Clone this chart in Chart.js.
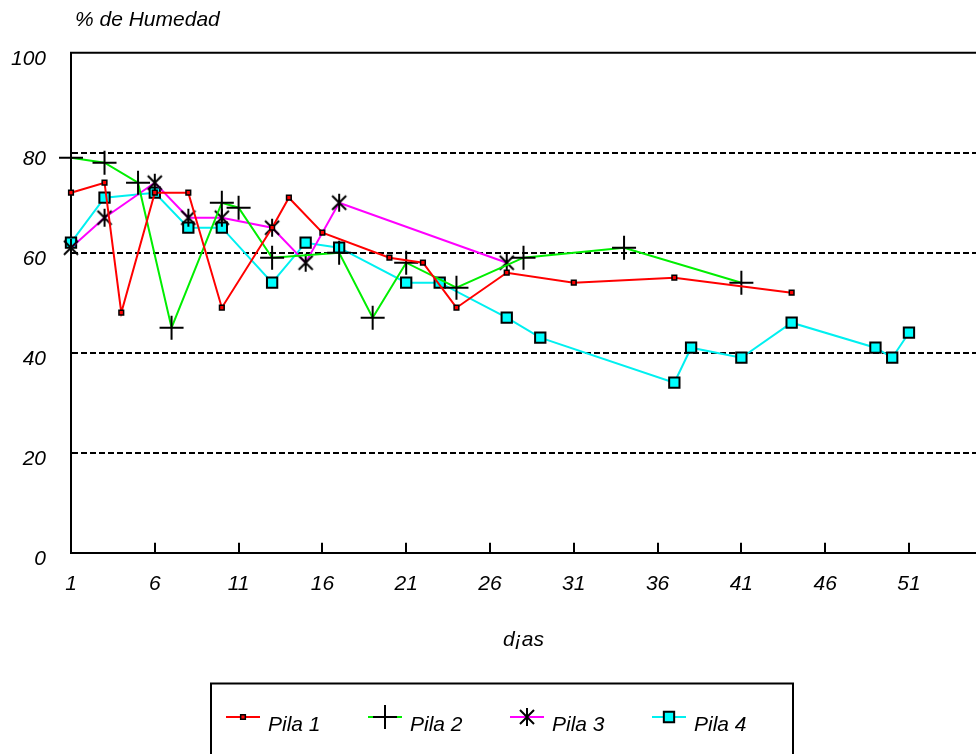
<!DOCTYPE html>
<html>
<head>
<meta charset="utf-8">
<script src="https://cdn.jsdelivr.net/npm/chart.js@4/dist/chart.umd.min.js"></script>
<style>
  html, body { margin: 0; padding: 0; overflow: hidden; background: #fff; }
  #wrap { position: absolute; left: 0; top: 0; width: 990px; height: 754px; }
</style>
</head>
<body>
<div id="wrap"><canvas id="c" width="990" height="754"></canvas></div>
<script>
// Humedad de las pilas de compost (%), por día de muestreo
const pila1Dias = [1, 3, 4, 6, 8, 10, 13, 14, 16, 20, 22, 24, 27, 31, 37, 44];
const pila1Hum  = [72, 74, 48, 72, 72, 49, 65, 71, 64, 59, 58, 49, 56, 54, 55, 52];

const pila2Dias = [1, 3, 5, 7, 10, 11, 13, 17, 19, 21, 24, 28, 34, 41];
const pila2Hum  = [79, 78, 74, 45, 70, 69, 59, 60, 47, 58, 53, 59, 61, 54];

const pila3Dias = [1, 3, 6, 8, 10, 13, 15, 17, 27];
const pila3Hum  = [61, 67, 74, 67, 67, 65, 58, 70, 58];

const pila4Dias = [1, 3, 6, 8, 10, 13, 15, 17, 21, 23, 27, 29, 37, 38, 41, 44, 49, 50, 51];
const pila4Hum  = [62, 71, 72, 65, 65, 54, 62, 61, 54, 54, 47, 43, 34, 41, 39, 46, 41, 39, 44];

const seriesNames = ['Pila 1', 'Pila 2', 'Pila 3', 'Pila 4'];
const xTickValues = [1, 6, 11, 16, 21, 26, 31, 36, 41, 46, 51];
const yTickValues = [0, 20, 40, 60, 80, 100];

const FAMILY = "'Liberation Sans', Arial, Helvetica, sans-serif";
const FONT_SIZE = 21;
const FONT = { family: FAMILY, size: FONT_SIZE, style: 'italic' };
const CSS_FONT = 'italic ' + FONT_SIZE + 'px ' + FAMILY;

// Asterisco de seis brazos para la Pila 3
function asterisk(r) {
  const s = Math.ceil(2 * r + 4);
  const c = document.createElement('canvas');
  c.width = s; c.height = s;
  const g = c.getContext('2d');
  const m = s / 2, d = r * 0.78;
  g.strokeStyle = '#000';
  g.lineWidth = 2;
  g.beginPath();
  g.moveTo(m, m - r); g.lineTo(m, m + r);
  g.moveTo(m - d, m - d); g.lineTo(m + d, m + d);
  g.moveTo(m + d, m - d); g.lineTo(m - d, m + d);
  g.stroke();
  return c;
}

const toPoints = (xs, ys) => xs.map((x, i) => ({ x, y: ys[i] }));

const datasets = [
  { label: seriesNames[0], data: toPoints(pila1Dias, pila1Hum),
    borderColor: '#ff0000', borderWidth: 2,
    pointStyle: 'rect', pointRadius: 3.3, pointBackgroundColor: '#ff0000',
    pointBorderColor: '#000', pointBorderWidth: 1.5 },
  { label: seriesNames[1], data: toPoints(pila2Dias, pila2Hum),
    borderColor: '#00ee00', borderWidth: 2,
    pointStyle: 'cross', pointRadius: 12, pointBackgroundColor: '#000',
    pointBorderColor: '#000', pointBorderWidth: 2 },
  { label: seriesNames[2], data: toPoints(pila3Dias, pila3Hum),
    borderColor: '#ff00ff', borderWidth: 2,
    pointStyle: asterisk(9), pointRadius: 9,
    pointBorderColor: '#000', pointBorderWidth: 2 },
  { label: seriesNames[3], data: toPoints(pila4Dias, pila4Hum),
    borderColor: '#00f0f0', borderWidth: 2,
    pointStyle: 'rect', pointRadius: 7.3, pointBackgroundColor: '#00ffff',
    pointBorderColor: '#000', pointBorderWidth: 2 }
].map(d => Object.assign(d, { tension: 0, clip: false, fill: false }));

// Marco superior, marcas interiores del eje X y título del eje Y
const framePlugin = {
  id: 'frame',
  afterDraw(chart) {
    const { ctx, chartArea: a, scales: { x } } = chart;
    ctx.save();
    ctx.strokeStyle = '#000';
    ctx.lineWidth = 2;
    ctx.beginPath();
    ctx.moveTo(a.left - 1, a.top);
    ctx.lineTo(a.right, a.top);
    x.ticks.forEach(t => {
      if (t.value === x.min) return;
      const px = Math.round(x.getPixelForValue(t.value));
      ctx.moveTo(px, a.bottom);
      ctx.lineTo(px, a.bottom - 10);
    });
    ctx.stroke();
    ctx.fillStyle = '#000';
    ctx.font = CSS_FONT;
    ctx.textAlign = 'left';
    ctx.textBaseline = 'middle';
    ctx.fillText('% de Humedad', a.left + 4, 20);
    ctx.restore();
  }
};

// Leyenda en recuadro bajo el gráfico
const boxLegend = {
  id: 'boxLegend',
  afterDraw(chart) {
    const { ctx } = chart;
    const box = { left: 211, top: 683.5, width: 582, height: 120 };
    const lineY = 717, firstX = 226, step = 142, segLen = 34;
    ctx.save();
    ctx.strokeStyle = '#000';
    ctx.lineWidth = 2;
    ctx.strokeRect(box.left, box.top, box.width, box.height);
    chart.data.datasets.forEach((ds, i) => {
      const x0 = firstX + i * step;
      const cx = x0 + segLen / 2;
      ctx.strokeStyle = ds.borderColor;
      ctx.lineWidth = 2;
      ctx.beginPath();
      ctx.moveTo(x0, lineY);
      ctx.lineTo(x0 + segLen, lineY);
      ctx.stroke();
      const r = ds.pointRadius;
      ctx.lineWidth = ds.pointBorderWidth;
      ctx.strokeStyle = ds.pointBorderColor;
      if (ds.pointStyle === 'rect') {
        const h = r * Math.SQRT1_2;
        ctx.fillStyle = ds.pointBackgroundColor;
        ctx.beginPath();
        ctx.rect(cx - h, lineY - h, 2 * h, 2 * h);
        ctx.fill();
        ctx.stroke();
      } else if (ds.pointStyle === 'cross') {
        ctx.beginPath();
        ctx.moveTo(cx - r, lineY); ctx.lineTo(cx + r, lineY);
        ctx.moveTo(cx, lineY - r); ctx.lineTo(cx, lineY + r);
        ctx.stroke();
      } else {
        const img = ds.pointStyle;
        ctx.drawImage(img, cx - img.width / 2, lineY - img.height / 2);
      }
      ctx.fillStyle = '#000';
      ctx.font = CSS_FONT;
      ctx.textAlign = 'left';
      ctx.textBaseline = 'middle';
      ctx.fillText(ds.label, x0 + segLen + 8, lineY + 8);
    });
    ctx.restore();
  }
};

new Chart(document.getElementById('c'), {
  type: 'line',
  data: { datasets },
  plugins: [framePlugin, boxLegend],
  options: {
    responsive: false,
    animation: false,
    events: [],
    layout: { padding: { left: 0, right: 4, top: 52.7, bottom: 0 } },
    plugins: { legend: { display: false }, tooltip: { enabled: false } },
    scales: {
      x: {
        type: 'linear', min: 1, max: 55,
        afterBuildTicks: s => { s.ticks = xTickValues.map(v => ({ value: v })); },
        afterFit: s => { s.height = 754 - 552.7; },
        grid: { display: false, drawTicks: false },
        border: { display: true, color: '#000', width: 2 },
        ticks: { color: '#000', font: FONT, padding: 19, maxRotation: 0, autoSkip: false,
                 callback: v => String(v) },
        title: { display: true, text: 'd¡as', color: '#000', font: FONT,
                 padding: { top: 0, bottom: 101 } }
      },
      y: {
        type: 'linear', min: 0, max: 100,
        afterBuildTicks: s => { s.ticks = yTickValues.map(v => ({ value: v })); },
        afterFit: s => { s.width = 71; },
        grid: {
          drawTicks: false, lineWidth: 2,
          color: c => (c.tick && c.tick.value > 0 && c.tick.value < 100) ? '#000' : 'rgba(0,0,0,0)'
        },
        border: { display: true, color: '#000', width: 2, dash: [6, 3] },
        ticks: { color: '#000', font: FONT, padding: 25, labelOffset: 6,
                 callback: v => String(v) }
      }
    }
  }
});
</script>
</body>
</html>
